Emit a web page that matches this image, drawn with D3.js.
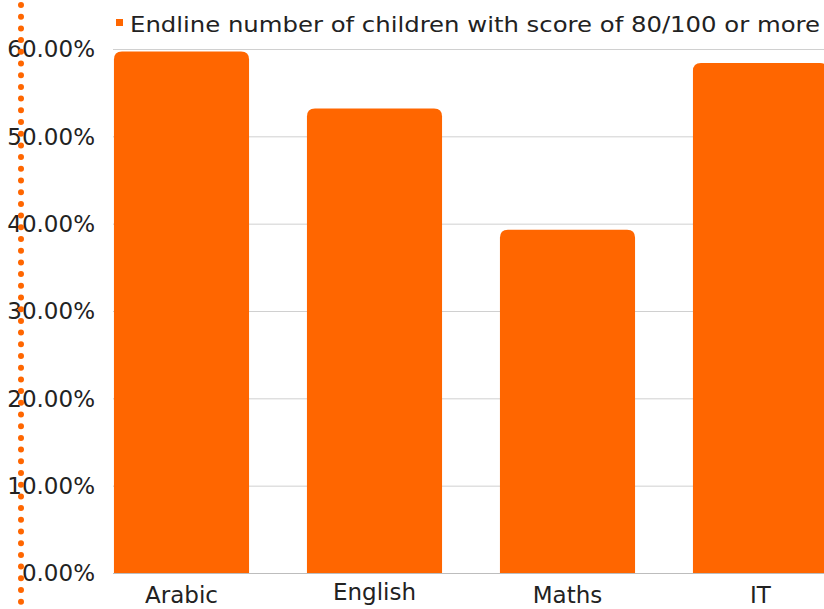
<!DOCTYPE html>
<html>
<head>
<meta charset="utf-8">
<script src="https://cdn.jsdelivr.net/npm/d3@7"></script>
<style>
  body { margin: 0; background: #fff; }
  svg { display: block; font-family: "DejaVu Sans", sans-serif; }
</style>
</head>
<body>
<svg width="824" height="609"></svg>
<script>
// Chart data
const subjects = ["Arabic", "English", "Maths", "IT"];
const scores = [0.597, 0.532, 0.393, 0.584];
const yTicks = [0, 0.1, 0.2, 0.3, 0.4, 0.5, 0.6];
const seriesName = "Endline number of children with score of 80/100 or more";

const orange = "#FF6600";
const width = 824, height = 609;

const svg = d3.select("svg");

// Scales
const x = d3.scaleBand()
    .domain(subjects)
    .range([85, 857])
    .paddingInner(0.3)
    .paddingOuter(0.15);

const y = d3.scaleLinear()
    .domain([0, 0.6])
    .range([573, 49]);

// Gridlines
svg.append("g")
    .selectAll("line")
    .data(yTicks)
    .join("line")
    .attr("x1", 113)
    .attr("x2", width)
    .attr("y1", d => y(d) + 0.5)
    .attr("y2", d => y(d) + 0.5)
    .attr("stroke", d => d === 0 ? "#bdbdbd" : "#d0d0d0")
    .attr("stroke-width", 1);

// Bars with rounded top corners
const r = 8;
svg.append("g")
    .selectAll("path")
    .data(subjects)
    .join("path")
    .attr("fill", orange)
    .attr("d", (d, i) => {
        const x0 = x(d), x1 = x(d) + x.bandwidth();
        const yt = y(scores[i]), yb = y(0);
        return `M${x0},${yb}V${yt + r}Q${x0},${yt} ${x0 + r},${yt}H${x1 - r}Q${x1},${yt} ${x1},${yt + r}V${yb}Z`;
    });

// Y axis labels
const fmt = d3.format(".2%");
svg.append("g")
    .selectAll("text")
    .data(yTicks)
    .join("text")
    .attr("x", 95)
    .attr("y", d => y(d))
    .attr("dy", "0.36em")
    .attr("text-anchor", "end")
    .attr("font-size", 23)
    .attr("fill", "#222")
    .text(d => fmt(d));

// X axis labels
svg.append("g")
    .selectAll("text")
    .data(subjects)
    .join("text")
    .attr("x", d => x(d) + x.bandwidth() / 2)
    .attr("y", d => d === "English" ? 600 : 603)
    .attr("text-anchor", "middle")
    .attr("font-size", 23)
    .attr("fill", "#222")
    .text(d => d);

// Dotted vertical line on the left
svg.append("line")
    .attr("x1", 21).attr("x2", 21)
    .attr("y1", 5).attr("y2", height + 10)
    .attr("stroke", orange)
    .attr("stroke-width", 6)
    .attr("stroke-linecap", "round")
    .attr("stroke-dasharray", "0 11.7");

// Legend
svg.append("rect")
    .attr("x", 116).attr("y", 19)
    .attr("width", 7).attr("height", 7)
    .attr("fill", orange);

svg.append("text")
    .attr("x", 130)
    .attr("y", 32)
    .attr("font-size", 22)
    .attr("fill", "#222")
    .attr("textLength", 690)
    .attr("lengthAdjust", "spacingAndGlyphs")
    .text(seriesName);
</script>
</body>
</html>
